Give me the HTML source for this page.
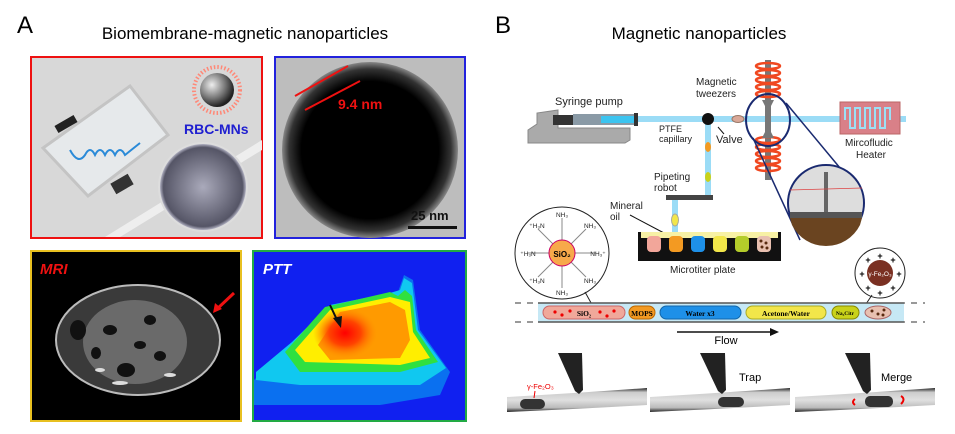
<!DOCTYPE html>
<html><head><meta charset="utf-8"><style>
html,body{margin:0;padding:0;background:#fff;}
svg{display:block;font-family:"Liberation Sans",Arial,sans-serif;}
</style></head><body>
<svg width="955" height="434" viewBox="0 0 955 434" xmlns="http://www.w3.org/2000/svg">
<defs>
<radialGradient id="tem" cx="50%" cy="50%" r="50%"><stop offset="0.78" stop-color="#000"/><stop offset="0.92" stop-color="#333"/><stop offset="1" stop-color="#888"/></radialGradient>
<radialGradient id="ball" cx="35%" cy="35%" r="65%"><stop offset="0" stop-color="#eee"/><stop offset="0.6" stop-color="#777"/><stop offset="1" stop-color="#222"/></radialGradient>
<radialGradient id="coin" cx="50%" cy="50%" r="50%"><stop offset="0" stop-color="#aab"/><stop offset="0.9" stop-color="#556"/><stop offset="1" stop-color="#ccd"/></radialGradient>
<radialGradient id="hot" cx="50%" cy="50%" r="50%"><stop offset="0" stop-color="#f00"/><stop offset="0.5" stop-color="#f40"/><stop offset="1" stop-color="#f80" stop-opacity="0"/></radialGradient>
<linearGradient id="tube" x1="0" y1="0" x2="0" y2="1"><stop offset="0" stop-color="#222"/><stop offset="0.18" stop-color="#ccc"/><stop offset="0.5" stop-color="#e0e0e0"/><stop offset="0.82" stop-color="#bbb"/><stop offset="1" stop-color="#222"/></linearGradient>
</defs>

<!-- Titles -->
<text x="17" y="33" font-size="24">A</text>
<text x="245" y="39" font-size="17" text-anchor="middle">Biomembrane-magnetic nanoparticles</text>
<text x="495" y="33" font-size="24">B</text>
<text x="699" y="39" font-size="17" text-anchor="middle">Magnetic nanoparticles</text>

<!-- A top-left -->
<rect x="31" y="57" width="231" height="181" fill="#d8d8d8" stroke="#e11" stroke-width="2"/>
<polygon points="105,237 262,140 262,150 120,237" fill="#eee"/>
<polygon points="43,148 130,86 168,135 88,196" fill="#e6e9eb" stroke="#c4c4c4" stroke-width="3"/>
<path d="M70,150 q8,15 15,5 q5,-10 10,0 q5,-10 10,0 q5,-10 10,0 q5,-10 10,0 l15,-12" stroke="#2a8ad8" stroke-width="2" fill="none"/>
<rect x="55" y="120" width="22" height="8" fill="#222" transform="rotate(-30 66 124)"/>
<rect x="112" y="178" width="20" height="12" fill="#333" transform="rotate(-30 122 184)"/>
<circle cx="203" cy="187" r="44" fill="url(#coin)" stroke="#ddd" stroke-width="2"/>
<circle cx="217" cy="90" r="23" fill="none" stroke="#f87" stroke-width="4" stroke-dasharray="1.5 2"/>
<circle cx="217" cy="90" r="17" fill="url(#ball)"/>
<text x="184" y="134" font-size="14" font-weight="bold" fill="#2020d0">RBC-MNs</text>

<!-- A top-right -->
<rect x="275" y="57" width="190" height="181" fill="#bdbdbd" stroke="#2222dd" stroke-width="2"/>
<ellipse cx="370" cy="150" rx="88" ry="88" fill="url(#tem)"/>
<line x1="295" y1="96" x2="348" y2="66" stroke="#e11" stroke-width="2"/>
<line x1="305" y1="110" x2="360" y2="81" stroke="#e11" stroke-width="2"/>
<text x="338" y="109" font-size="14" font-weight="bold" fill="#e11">9.4 nm</text>
<text x="411" y="220" font-size="13" font-weight="bold" fill="#111">25 nm</text>
<rect x="408" y="226" width="49" height="3" fill="#111"/>

<!-- A bottom-left MRI -->
<rect x="31" y="251" width="210" height="170" fill="#000" stroke="#e8c020" stroke-width="2"/>
<ellipse cx="138" cy="340" rx="82" ry="55" fill="#3a3a3a" stroke="#bbb" stroke-width="2"/>
<ellipse cx="135" cy="342" rx="52" ry="42" fill="#6a6a6a"/>
<g fill="#111"><ellipse cx="110" cy="330" rx="7" ry="5"/><ellipse cx="150" cy="320" rx="6" ry="5"/><ellipse cx="126" cy="370" rx="9" ry="7"/><ellipse cx="160" cy="356" rx="6" ry="5"/><ellipse cx="96" cy="353" rx="5" ry="6"/><ellipse cx="78" cy="330" rx="8" ry="10"/><ellipse cx="140" cy="345" rx="6" ry="4"/></g>
<g fill="#ddd"><ellipse cx="120" cy="383" rx="8" ry="2"/><ellipse cx="170" cy="375" rx="6" ry="2"/><ellipse cx="100" cy="370" rx="5" ry="2"/></g>
<line x1="234" y1="293" x2="217" y2="309" stroke="#e11" stroke-width="3"/>
<polygon points="213,313 215,303 222,309" fill="#e11"/>
<text x="40" y="274" font-size="15" font-weight="bold" font-style="italic" fill="#e11">MRI</text>

<!-- A bottom-right PTT -->
<rect x="253" y="251" width="213" height="170" fill="#1020f0" stroke="#22aa44" stroke-width="2"/>
<path d="M254,380 L290,345 L330,308 L390,295 L398,292 L404,275 L413,280 L420,330 L450,372 L440,395 L380,405 L254,405 Z" fill="#0a70f0"/>
<path d="M256,372 L292,342 L330,305 L390,293 L400,290 L404,278 L412,283 L418,330 L446,368 L420,385 L300,385 L256,380 Z" fill="#10c8f0"/>
<path d="M285,352 L325,307 L390,292 L398,296 L405,290 L412,296 L416,330 L438,362 L400,372 L300,372 Z" fill="#30e040"/>
<path d="M295,350 L330,310 L390,297 L410,302 L413,332 L430,358 L400,365 L305,362 Z" fill="#ffee00"/>
<path d="M318,345 L340,312 L390,302 L405,310 L410,340 L400,358 L330,360 Z" fill="#ff9a00"/>
<ellipse cx="345" cy="333" rx="32" ry="25" fill="url(#hot)"/>
<line x1="330" y1="305" x2="338" y2="322" stroke="#111" stroke-width="2"/>
<polygon points="341,328 333,318 342,316" fill="#111"/>
<text x="263" y="274" font-size="15" font-weight="bold" font-style="italic" fill="#fff">PTT</text>

<!-- B: syringe pump -->
<text x="555" y="105" font-size="11" fill="#222">Syringe pump</text>
<polygon points="528,130 537,124 537,113 558,110 558,128 630,128 630,140 625,143 528,143" fill="#aaa" stroke="#888"/>
<rect x="553" y="115" width="20" height="10" fill="#333"/>
<rect x="573" y="114" width="63" height="11" fill="#8a9aa6"/>
<rect x="601" y="116" width="35" height="7" fill="#3bc4f0"/>
<rect x="634" y="113" width="4" height="13" fill="#333"/>
<rect x="638" y="116" width="268" height="6" fill="#9bdcf6"/>
<text x="659" y="132" font-size="9" fill="#222">PTFE</text>
<text x="659" y="142" font-size="9" fill="#222">capillary</text>
<rect x="705" y="120" width="6" height="78" fill="#9bdcf6"/>
<circle cx="708" cy="119" r="6" fill="#111"/>
<line x1="718" y1="127" x2="724" y2="134" stroke="#111"/>
<text x="716" y="143" font-size="11" fill="#222">Valve</text>
<ellipse cx="738" cy="119" rx="6" ry="3.5" fill="#d9a898" stroke="#976"/>
<ellipse cx="708" cy="147" rx="3" ry="5" fill="#f39a22"/>
<ellipse cx="708" cy="177" rx="3" ry="5" fill="#c9d21a"/>
<text x="654" y="180" font-size="10" fill="#222">Pipeting</text>
<text x="654" y="191" font-size="10" fill="#222">robot</text>
<rect x="666" y="195" width="47" height="5" fill="#444"/>
<rect x="672" y="200" width="6" height="35" fill="#9bdcf6"/>
<ellipse cx="675" cy="220" rx="3.5" ry="6" fill="#f2e64a" stroke="#aa9"/>
<text x="610" y="209" font-size="10" fill="#222">Mineral</text>
<text x="610" y="220" font-size="10" fill="#222">oil</text>
<line x1="630" y1="215" x2="664" y2="233" stroke="#111"/>
<rect x="638" y="232" width="143" height="29" fill="#111"/>
<rect x="641" y="232" width="137" height="6" fill="#f7f1a5"/>
<g><rect x="647" y="236" width="14" height="16" rx="4" fill="#f2a69a"/><rect x="669" y="236" width="14" height="16" rx="4" fill="#f39a22"/><rect x="691" y="236" width="14" height="16" rx="4" fill="#1e90e8"/><rect x="713" y="236" width="14" height="16" rx="4" fill="#f2e64a"/><rect x="735" y="236" width="14" height="16" rx="4" fill="#b4cc2a"/><rect x="757" y="236" width="14" height="16" rx="4" fill="#e8c0b0"/></g>
<g fill="#5a2a10"><circle cx="761" cy="241" r="1.5"/><circle cx="766" cy="243" r="1.5"/><circle cx="762" cy="247" r="1.5"/><circle cx="767" cy="248" r="1.5"/></g>
<text x="670" y="273" font-size="10" fill="#222">Microtiter plate</text>

<!-- tweezers & coils -->
<text x="696" y="85" font-size="10" fill="#222">Magnetic</text>
<text x="696" y="97" font-size="10" fill="#222">tweezers</text>
<rect x="765" y="60" width="6" height="120" fill="#777"/>
<g fill="none" stroke="#f04820" stroke-width="2.5">
<ellipse cx="768" cy="66" rx="12" ry="3"/><ellipse cx="768" cy="73" rx="12" ry="3"/><ellipse cx="768" cy="80" rx="12" ry="3"/><ellipse cx="768" cy="87" rx="12" ry="3"/><ellipse cx="768" cy="94" rx="12" ry="3"/>
<ellipse cx="768" cy="140" rx="12" ry="3"/><ellipse cx="768" cy="147" rx="12" ry="3"/><ellipse cx="768" cy="154" rx="12" ry="3"/><ellipse cx="768" cy="161" rx="12" ry="3"/><ellipse cx="768" cy="168" rx="12" ry="3"/></g>
<polygon points="762,100 774,100 768,112" fill="#777"/>
<polygon points="762,138 774,138 768,126" fill="#777"/>
<ellipse cx="768" cy="120" rx="22" ry="26" fill="none" stroke="#1a2a70" stroke-width="2"/>
<line x1="786" y1="103" x2="850" y2="180" stroke="#1a2a70" stroke-width="1.5"/>
<line x1="753" y1="138" x2="800" y2="240" stroke="#1a2a70" stroke-width="1.5"/>
<circle cx="826" cy="203" r="38" fill="#ddd" stroke="#1a2a70" stroke-width="2"/>
<path d="M790,218 L862,218 L860,225 A38,38 0 0 1 792,225 Z" fill="#6a4420"/>
<rect x="790" y="212" width="72" height="6" fill="#555"/>
<rect x="824" y="172" width="4" height="40" fill="#666"/>
<line x1="790" y1="190" x2="862" y2="188" stroke="#d44" stroke-width="0.8"/>
<rect x="840" y="102" width="60" height="32" fill="#d98088" stroke="#b66"/>
<path d="M845,120 v-12 h5 v20 h5 v-20 h5 v20 h5 v-20 h5 v20 h5 v-20 h5 v20 h5 v-20 h5 v12" fill="none" stroke="#9be0f6" stroke-width="2"/>
<text x="845" y="146" font-size="10" fill="#222">Mircofludic</text>
<text x="856" y="158" font-size="10" fill="#222">Heater</text>

<!-- SiO2 particle -->
<ellipse cx="562" cy="253" rx="47" ry="46" fill="#fff" stroke="#222"/>
<g stroke="#888" stroke-width="1">
<line x1="562" y1="253" x2="562" y2="218"/><line x1="562" y1="253" x2="562" y2="288"/><line x1="562" y1="253" x2="528" y2="253"/><line x1="562" y1="253" x2="596" y2="253"/>
<line x1="562" y1="253" x2="538" y2="229"/><line x1="562" y1="253" x2="586" y2="229"/><line x1="562" y1="253" x2="538" y2="277"/><line x1="562" y1="253" x2="586" y2="277"/></g>
<circle cx="562" cy="253" r="13" fill="#f7a94a" stroke="#c06"/>
<text x="562" y="257" font-size="8" font-weight="bold" text-anchor="middle">SiO₂</text>
<g font-size="6.5" fill="#222" text-anchor="middle">
<text x="562" y="217">NH₃</text><text x="562" y="295">NH₃</text><text x="528" y="256">⁺H₃N</text><text x="598" y="256">NH₃⁺</text>
<text x="537" y="228">⁺H₃N</text><text x="590" y="228">NH₃</text><text x="537" y="283">⁺H₃N</text><text x="590" y="283">NH₃</text></g>
<line x1="585" y1="292" x2="595" y2="310" stroke="#222"/>

<!-- Fe2O3 particle -->
<circle cx="880" cy="273" r="25" fill="#fff" stroke="#222"/>
<circle cx="880" cy="273" r="13" fill="#7a3022"/>
<text x="880" y="276" font-size="6.5" fill="#fff" text-anchor="middle">γ-Fe₂O₃</text>
<g font-size="9" font-weight="bold" text-anchor="middle"><text x="880" y="259">+</text><text x="880" y="296">+</text><text x="862" y="277">+</text><text x="899" y="277">+</text><text x="868" y="263">+</text><text x="893" y="263">+</text><text x="868" y="291">+</text><text x="893" y="291">+</text></g>
<line x1="872" y1="295" x2="866" y2="304" stroke="#222"/>

<!-- flow tube -->
<line x1="515" y1="303" x2="925" y2="303" stroke="#333" stroke-dasharray="6 6"/>
<line x1="515" y1="322" x2="925" y2="322" stroke="#333" stroke-dasharray="6 6"/>
<rect x="538" y="303" width="366" height="19" fill="#c6e8f5"/>
<line x1="538" y1="303" x2="904" y2="303" stroke="#555" stroke-width="1.5"/>
<line x1="538" y1="322" x2="904" y2="322" stroke="#555" stroke-width="1.5"/>
<g font-family="Liberation Serif,serif" font-size="7.5" font-weight="bold" text-anchor="middle">
<rect x="543" y="306" width="82" height="13" rx="6.5" fill="#f0a89a" stroke="#c66"/><text x="584" y="316">SiO₂</text>
<g fill="#e00"><circle cx="555" cy="312" r="1.6"/><circle cx="562" cy="315" r="1.6"/><circle cx="570" cy="311" r="1.6"/><circle cx="600" cy="312" r="1.6"/><circle cx="607" cy="316" r="1.6"/><circle cx="614" cy="311" r="1.6"/></g>
<rect x="629" y="306" width="26" height="13" rx="6.5" fill="#f39a22" stroke="#b60"/><text x="642" y="316">MOPS</text>
<rect x="660" y="306" width="81" height="13" rx="6.5" fill="#1e90e8" stroke="#16a"/><text x="700" y="316">Water x3</text>
<rect x="746" y="306" width="80" height="13" rx="6.5" fill="#f2e64a" stroke="#aa2"/><text x="786" y="316">Acetone/Water</text>
<rect x="832" y="306" width="27" height="13" rx="6.5" fill="#c9d21a" stroke="#880"/><text x="845" y="315" font-size="5.5">Na₃Citr</text>
<ellipse cx="878" cy="312.5" rx="13" ry="6.5" fill="#e8c0b0" stroke="#a66"/>
<g fill="#5a2a10"><circle cx="872" cy="311" r="1.5"/><circle cx="878" cy="314" r="1.5"/><circle cx="884" cy="310" r="1.5"/><circle cx="883" cy="315" r="1.5"/></g></g>
<line x1="677" y1="332" x2="772" y2="332" stroke="#111" stroke-width="1.5"/>
<polygon points="779,332 770,328 770,336" fill="#111"/>
<text x="726" y="344" font-size="11" text-anchor="middle">Flow</text>

<!-- bottom photos -->
<g>
<path d="M507,397 Q580,393 647,388 L647,405 Q580,409 507,412 Z" fill="url(#tube)"/>
<polygon points="558,353 582,353 583,390 579,394 575,391" fill="#222"/>
<rect x="520" y="399" width="25" height="10" rx="5" fill="#333"/>
<text x="527" y="389" font-size="7.5" fill="#e00">γ-Fe₂O₃</text>
<line x1="535" y1="391" x2="534" y2="398" stroke="#e00"/>

<path d="M650,397 Q720,393 790,388 L790,405 Q720,409 650,412 Z" fill="url(#tube)"/>
<polygon points="700,353 725,353 726,390 722,394 718,391" fill="#222"/>
<rect x="718" y="397" width="26" height="10" rx="5" fill="#333"/>
<text x="739" y="381" font-size="11">Trap</text>

<path d="M795,397 Q865,393 935,388 L935,405 Q865,409 795,412 Z" fill="url(#tube)"/>
<polygon points="845,353 870,353 871,390 867,394 863,391" fill="#222"/>
<rect x="865" y="396" width="28" height="11" rx="5" fill="#333"/>
<text x="881" y="381" font-size="11">Merge</text>
<path d="M855,399 q-4,3 0,6" stroke="#e00" fill="none" stroke-width="2"/>
<path d="M901,396 q5,3 0,8" stroke="#e00" fill="none" stroke-width="2"/>
</g>
</svg>
</body></html>
